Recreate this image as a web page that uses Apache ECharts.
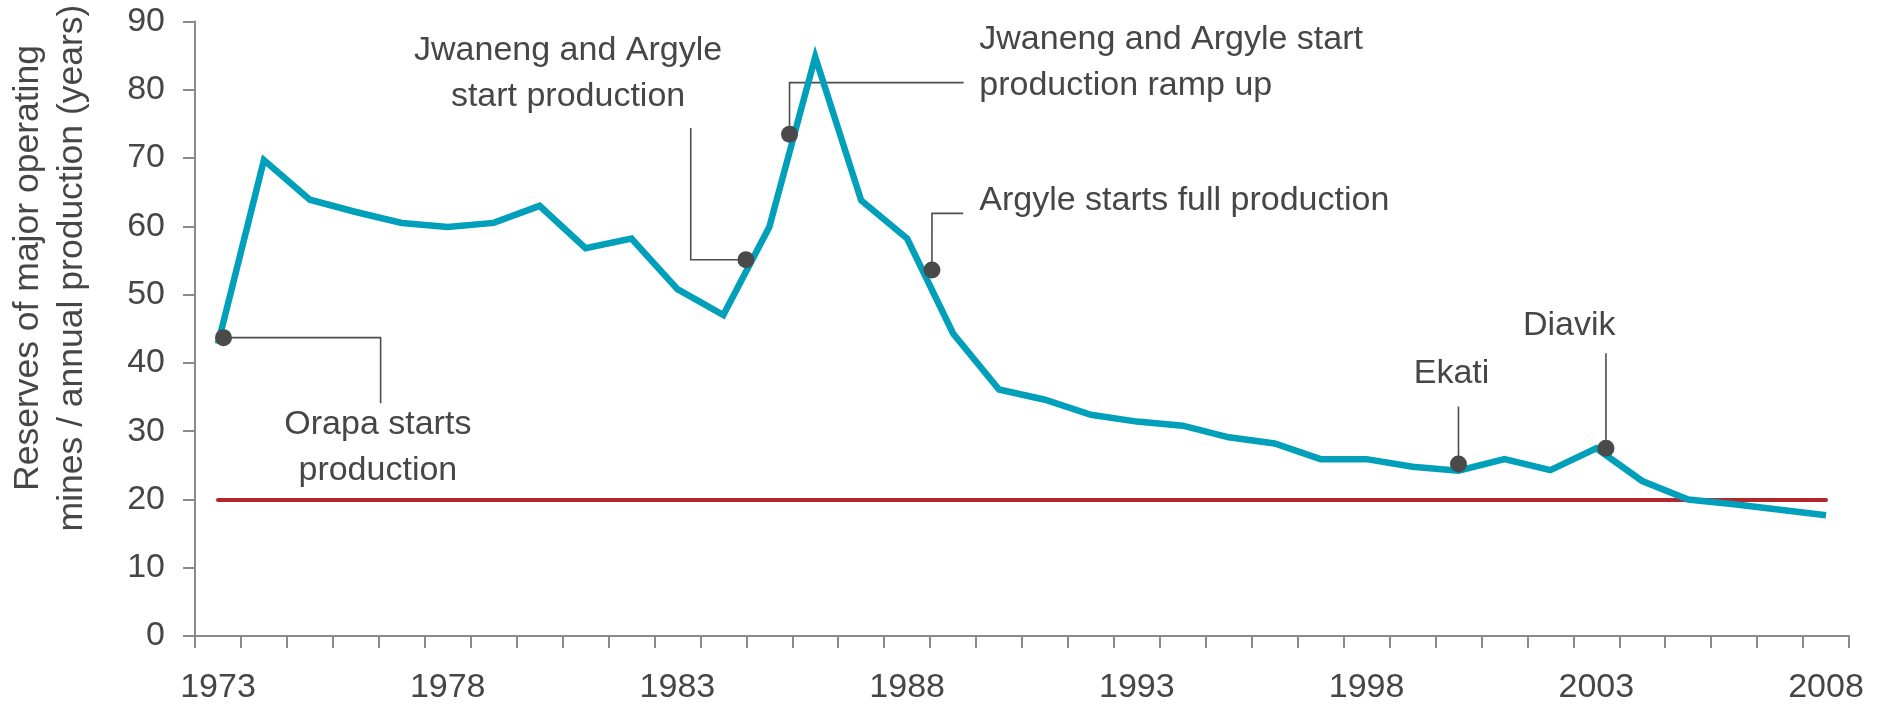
<!DOCTYPE html>
<html>
<head>
<meta charset="utf-8">
<script src="https://cdn.jsdelivr.net/npm/echarts@6/dist/echarts.min.js"></script>
<style>
  html, body { margin: 0; padding: 0; background: #ffffff; }
  #chart { width: 1880px; height: 705px; }
</style>
</head>
<body>
<div id="chart"></div>
<script>
// ---- Data ----
const years = ['1973','1974','1975','1976','1977','1978','1979','1980','1981','1982',
               '1983','1984','1985','1986','1987','1988','1989','1990','1991','1992',
               '1993','1994','1995','1996','1997','1998','1999','2000','2001','2002',
               '2003','2004','2005','2006','2007','2008'];
const reserveYears = [42.8, 69.7, 63.9, 62.1, 60.5, 59.9, 60.5, 63.0, 56.8, 58.2,
                      50.8, 47.0, 59.9, 84.8, 63.8, 58.2, 44.3, 36.1, 34.6, 32.4,
                      31.4, 30.8, 29.1, 28.2, 25.9, 25.9, 24.8, 24.2, 25.9, 24.3,
                      27.5, 22.7, 20.0, 19.3, 18.5, 17.7];
const thresholdValue = 20;
const yMin = 0, yMax = 90, yStep = 10;
const xLabelEvery = 5;

// Annotations in data coordinates (fractional year, years of reserves)
const annotationTexts = [
  'Orapa starts\nproduction',
  'Jwaneng and Argyle\nstart production',
  'Jwaneng and Argyle start\nproduction ramp up',
  'Argyle starts full production',
  'Ekati',
  'Diavik'
];
const annotationDots = [
  [1973.12, 43.7], [1984.49, 55.1], [1985.44, 73.5], [1988.54, 53.6], [2000.0, 25.2], [2003.21, 27.5]
];
const annotationLeaders = [
  [[1973.12, 43.7], [1976.54, 43.7], [1976.54, 34.1]],
  [[1984.49, 55.1], [1983.29, 55.1], [1983.29, 74.4]],
  [[1985.44, 73.5], [1985.44, 81.05], [1989.23, 81.05]],
  [[1988.54, 53.6], [1988.54, 61.9], [1989.22, 61.9]],
  [[2000.0, 25.2], [2000.0, 33.6]],
  [[2003.21, 27.5], [2003.21, 41.4]]
];
const annotationAnchors = [
  [1976.48, 27.55], [1980.62, 82.4], [1989.57, 84.0], [1989.57, 63.7], [1999.85, 38.5], [2002.41, 45.45]
];
const annotationAlign = ['center', 'center', 'left', 'left', 'center', 'center'];

// ---- Styles ----
const FONT = '"Liberation Sans", Arial, Helvetica, sans-serif';
const TEXT = '#464646';
const AXIS = '#8a8a8a';

const chart = echarts.init(document.getElementById('chart'), null, { renderer: 'canvas' });

const option = {
  animation: false,
  backgroundColor: '#ffffff',
  textStyle: { fontFamily: FONT },
  grid: { left: 195, right: 31, top: 21.5, bottom: 69 },
  xAxis: [
    {
      type: 'category',
      data: years,
      boundaryGap: true,
      axisLine: { show: true, lineStyle: { color: AXIS, width: 2 } },
      axisTick: { show: true, interval: 0, length: 12, lineStyle: { color: AXIS, width: 2 } },
      axisLabel: { interval: xLabelEvery - 1, margin: 35, fontSize: 34, color: TEXT, fontFamily: FONT },
      splitLine: { show: false }
    },
    {
      type: 'value',
      min: Number(years[0]) - 0.5,
      max: Number(years[years.length - 1]) + 0.5,
      show: false
    }
  ],
  yAxis: {
    type: 'value',
    min: yMin,
    max: yMax,
    interval: yStep,
    axisLine: { show: true, lineStyle: { color: AXIS, width: 2 } },
    axisTick: { show: true, length: 12, lineStyle: { color: AXIS, width: 2 } },
    axisLabel: { margin: 30, fontSize: 34, color: TEXT, fontFamily: FONT },
    splitLine: { show: false }
  },
  graphic: [
    {
      type: 'text',
      x: 50,
      y: 268,
      rotation: Math.PI / 2,
      style: {
        text: 'Reserves of major operating\nmines / annual production (years)',
        fill: TEXT,
        font: '35.5px ' + FONT,
        lineHeight: 44,
        align: 'center',
        verticalAlign: 'middle'
      }
    }
  ],
  series: [
    {
      name: 'Leaders',
      type: 'lines',
      coordinateSystem: 'cartesian2d',
      xAxisIndex: 1,
      yAxisIndex: 0,
      polyline: true,
      silent: true,
      z: 1,
      lineStyle: { color: '#4d4d4d', width: 1.6, opacity: 1 },
      data: annotationLeaders.map(c => ({ coords: c }))
    },
    {
      name: 'Reserves / production',
      type: 'line',
      data: reserveYears,
      symbol: 'none',
      z: 3,
      lineStyle: { color: '#00a0ba', width: 6.5, join: 'miter' },
      markLine: {
        silent: true,
        symbol: ['none', 'none'],
        label: { show: false },
        lineStyle: { color: '#b3262b', width: 4, type: 'solid', cap: 'round', opacity: 1 },
        z: 2,
        data: [[
          { coord: [years[0], thresholdValue] },
          { coord: [years[years.length - 1], thresholdValue] }
        ]]
      }
    },
    {
      name: 'Events',
      type: 'scatter',
      xAxisIndex: 1,
      yAxisIndex: 0,
      symbol: 'circle',
      symbolSize: 17,
      z: 5,
      silent: true,
      itemStyle: { color: '#4a4a4a', opacity: 1 },
      data: annotationDots
    },
    {
      name: 'Event labels',
      type: 'scatter',
      xAxisIndex: 1,
      yAxisIndex: 0,
      symbolSize: 1,
      silent: true,
      z: 6,
      itemStyle: { color: 'rgba(0,0,0,0)', opacity: 1 },
      data: annotationAnchors.map((p, i) => ({
        value: p,
        label: {
          show: true,
          position: 'inside',
          formatter: annotationTexts[i],
          align: annotationAlign[i],
          verticalAlign: 'middle',
          fontSize: 34,
          lineHeight: 46,
          color: TEXT,
          opacity: 1,
          fontFamily: FONT
        }
      }))
    }
  ]
};

chart.setOption(option);
</script>
</body>
</html>
